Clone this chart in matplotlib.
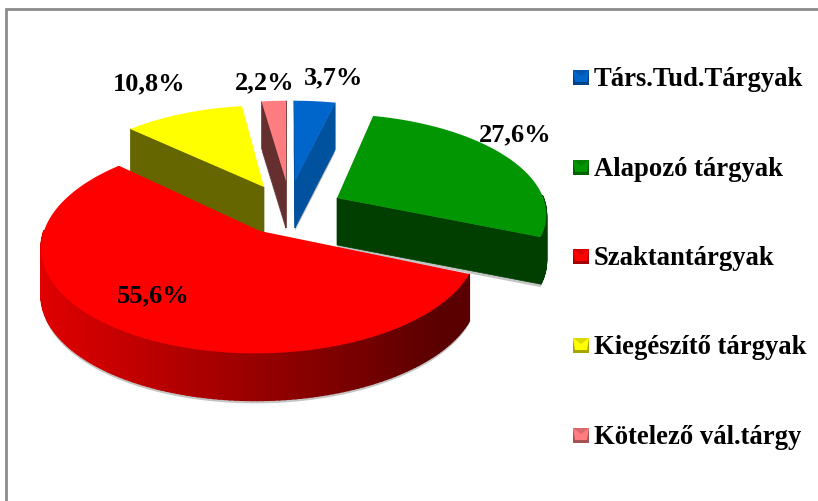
import numpy as np
import matplotlib
matplotlib.use('Agg')
import matplotlib.pyplot as plt
from matplotlib.patches import Polygon, Rectangle

labels = ['Társ.Tud.Tárgyak', 'Alapozó tárgyak', 'Szaktantárgyak', 'Kiegészítő tárgyak', 'Kötelező vál.tárgy']
values = [3.7, 27.6, 55.6, 10.8, 2.2]

colors = ['#0066cc', '#029602', '#ff0000', '#ffff00', '#ff7c80']
dark = ['#00519e', '#003f00', '#660000', '#666600', '#662f2f']
rim_left = ['#0060c0', '#025c02', '#e00000', '#b0b000', '#b05055']
rim_right = ['#00519e', '#003f00', '#5a0000', '#666600', '#662f2f']

# top apex of each pulled-out slice, in pixels
apex = [(295, 182), (337, 199), (260, 232), (264, 188), (286, 182)]
label_pos = [(334, 78), (515, 135), (153, 296), (149, 84), (265, 83)]
legend_y = [79, 169, 258, 347, 437]
depth = 47
cx, cy, rx, ry, k = 287, 215, 211, 100, 0.14

plt.rcParams['font.family'] = ['Liberation Serif', 'DejaVu Serif']
fig = plt.figure(figsize=(8.18, 5.02), dpi=100)
ax = fig.add_axes([0, 0, 1, 1])

# the pie gives the slice angles, the wedges are then redrawn tilted
wedges, _ = ax.pie(values, startangle=90, counterclock=False)
angles = [(w.theta1, w.theta2) for w in wedges]
for w in wedges:
    w.remove()
ax.set_aspect('auto')
ax.set_xlim(0, 818)
ax.set_ylim(502, 0)
ax.axis('off')


def project(u, v):
    d = 1 + k * v
    return cx + rx * u / d, cy - ry * v / d


def slice_xy(i, t):
    dy = cy - apex[i][1]
    v0 = dy / (ry - k * dy)
    u0 = (apex[i][0] - cx) * (1 + k * v0) / rx
    a = np.radians(t)
    return project(u0 + np.cos(a), v0 + np.sin(a))


def mix(c1, c2, f):
    a = np.array(matplotlib.colors.to_rgb(c1))
    b = np.array(matplotlib.colors.to_rgb(c2))
    return tuple(a + (b - a) * f)


# frame runs off the right and bottom of the picture
ax.add_patch(Rectangle((6, 10), 830, 520, fc='white', ec='#8c8c8c', lw=2))

for i in [3, 4, 0, 1, 2]:
    t1, t2 = angles[i]
    ts = np.linspace(t1, t2, 160)
    arc = np.array([slice_xy(i, t) for t in ts])
    c = np.array(apex[i], dtype=float)
    top = np.vstack([c, arc])

    # soft grey edge under the slice
    ax.add_patch(Polygon(top + [0, depth + 3], fc='#c4c4c4', ec='none'))

    mid = np.array(slice_xy(i, (t1 + t2) / 2))
    # cut faces, only the ones turned to the viewer
    for p in [arc[0], arc[-1]]:
        yline = c[1] + (p[1] - c[1]) * (mid[0] - c[0]) / (p[0] - c[0] + 1e-9)
        if mid[1] < yline:
            ax.add_patch(Polygon([c, p, p + [0, depth], c + [0, depth]], fc=dark[i], ec=dark[i], lw=0.5))

    # outer rim
    for a, b, t in zip(arc[:-1], arc[1:], ts[:-1]):
        if np.sin(np.radians(t)) < 0.02:
            f = np.clip((a[0] - 40) / 400, 0, 1)
            col = mix(rim_left[i], rim_right[i], f)
            ax.add_patch(Polygon([a, b, b + [0, depth], a + [0, depth]], fc=col, ec=col, lw=1.2))

    ax.add_patch(Polygon(top, fc=colors[i], ec='none'))

for i in range(len(values)):
    ax.text(label_pos[i][0], label_pos[i][1], f'{values[i]:.1f}%'.replace('.', ','),
            fontsize=19, fontweight='bold', ha='center', va='center', zorder=10)

for i in range(len(labels)):
    y = legend_y[i]
    ax.add_patch(Rectangle((573, y - 8), 16, 15, fc=mix(colors[i], '#000000', 0.35), ec='none', zorder=5))
    ax.add_patch(Polygon([(573, y - 8), (589, y - 8), (587, y + 4), (575, y + 4)], fc=colors[i], ec='none', zorder=6))
    ax.add_patch(Polygon([(573, y - 8), (589, y - 8), (581, y - 2)], fc=mix(colors[i], '#000000', 0.15), ec='none', zorder=7))
    ax.text(594, y + 1, labels[i], fontsize=19.2, fontweight='bold', ha='left', va='center', zorder=10)

fig.savefig('out.png', dpi=100)
